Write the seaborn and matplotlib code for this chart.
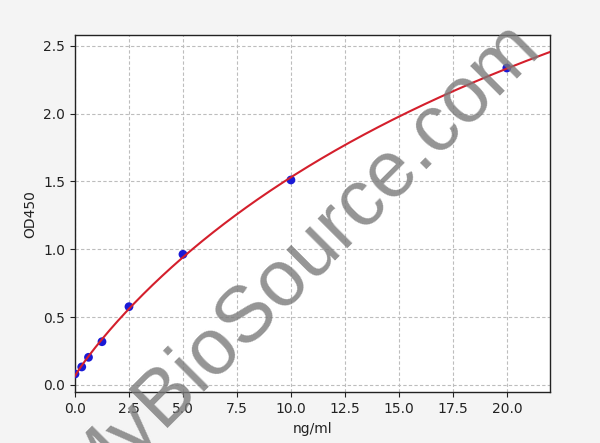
import numpy as np
import pandas as pd
import matplotlib
matplotlib.use("Agg")
import matplotlib.pyplot as plt
import seaborn as sns

# standard concentrations (ng/ml) and measured OD450
conc = [0, 0.3125, 0.625, 1.25, 2.5, 5, 10, 20]
od450 = [0.081, 0.133, 0.204, 0.319, 0.577, 0.963, 1.511, 2.336]

x_ticks = [0.0, 2.5, 5.0, 7.5, 10.0, 12.5, 15.0, 17.5, 20.0]
y_ticks = [0.0, 0.5, 1.0, 1.5, 2.0, 2.5]

df = pd.DataFrame({"conc": conc, "od": od450})

# 4PL fit: y = d + (a - d) / (1 + (x/c)^b), grid over b, c; a, d by least squares
x = np.array(conc, dtype=float)
y = np.array(od450, dtype=float)
best = None
for b in np.linspace(0.5, 2.0, 151):
    for c in np.geomspace(1, 500, 300):
        g = 1.0 / (1.0 + (x / c) ** b)
        A = np.column_stack([g, 1 - g])
        coef, *_ = np.linalg.lstsq(A, y, rcond=None)
        err = np.sum((A @ coef - y) ** 2)
        if best is None or err < best[0]:
            best = (err, b, c, coef)
_, b, c, (a, d) = best

xs = np.linspace(0, 22, 300)
fit = pd.DataFrame({"conc": xs, "od": d + (a - d) / (1 + (xs / c) ** b)})

fig = plt.figure(figsize=(6, 4.43), dpi=100, facecolor="#f4f4f4")
ax = fig.add_axes([0.125, 0.1144, 0.7917, 0.8059])
ax.set_facecolor("white")

sns.scatterplot(data=df, x="conc", y="od", color="#1a1ad6", s=40,
                edgecolor="none", ax=ax, zorder=3)
sns.lineplot(data=fit, x="conc", y="od", color="#d41f2c", linewidth=1.5,
             ax=ax, zorder=4)

ax.set_xlim(0, 22)
ax.set_ylim(-0.054, 2.577)
ax.set_xticks(x_ticks)
ax.set_yticks(y_ticks)
ax.grid(True, color="#bdbdbd", linestyle=(0, (3, 2)), linewidth=0.8)
ax.set_axisbelow(True)
for sp in ax.spines.values():
    sp.set_color("#222222")
    sp.set_linewidth(1.0)
ax.tick_params(labelsize=10, colors="#222222")
ax.set_xlabel("ng/ml", fontsize=10, color="#222222")
ax.set_ylabel("OD450", fontsize=10, color="#222222")

# watermark
fig.text(0.5, 0.413, "MyBioSource.com", fontsize=57, family="Liberation Sans",
         color="#7a7a7a", alpha=0.8, rotation=45, ha="center", va="center",
         zorder=10)

fig.savefig("out.png", dpi=100, facecolor=fig.get_facecolor())
